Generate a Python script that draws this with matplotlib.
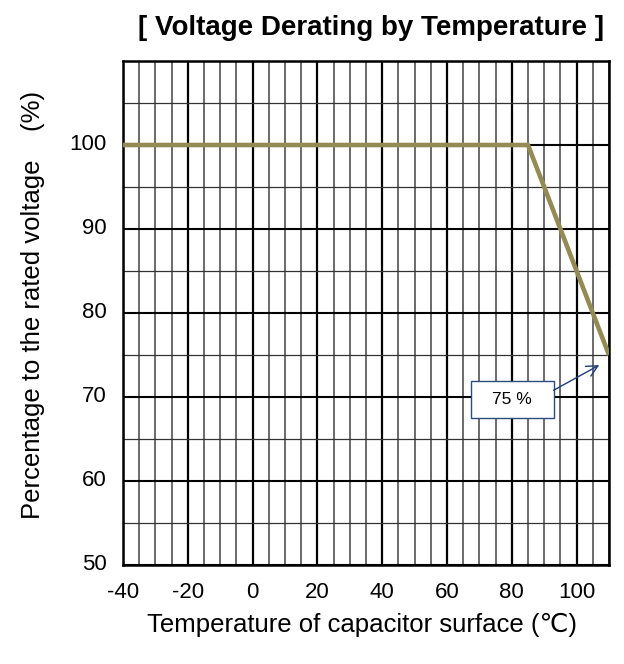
import matplotlib
matplotlib.use("Agg")
import matplotlib.pyplot as plt
import matplotlib.transforms as mtransforms
from matplotlib.patches import Rectangle, FancyArrowPatch
import numpy as np

plt.rcParams['font.family'] = ['Liberation Sans', 'DejaVu Sans']
plt.rcParams['axes.unicode_minus'] = False

# Data
temp_c = [-40, 85, 110]
voltage_pct = [100, 100, 75]
x_ticks = [-40, -20, 0, 20, 40, 60, 80, 100]
y_ticks = [50, 60, 70, 80, 90, 100]
annot_text = "75 %"
annot_point = (107, 73.8)
annot_box = (67.4, 67.5, 25.5, 4.4)  # x, y, width, height in data units

W, H = 624, 664
fig = plt.figure(figsize=(W / 100, H / 100), dpi=100)
ax = fig.add_axes([123 / W, 1 - 565 / H, (609 - 123) / W, (565 - 61) / H])
ax.set_xlim(-40, 110)
ax.set_ylim(50, 110)

# grid lines
for xv in np.arange(-40, 111, 5):
    if xv % 20 == 0:
        ax.axvline(xv, color='black', lw=1.6, zorder=1)
    else:
        ax.axvline(xv, color='#6a6a6a', lw=1.4, zorder=1)
for yv in np.arange(50, 111, 5):
    if yv % 10 == 0:
        ax.axhline(yv, color='black', lw=1.5, zorder=1)
    else:
        ax.axhline(yv, color='#333333', lw=0.9, zorder=1)

ax.plot(temp_c, voltage_pct, color='#948A54', lw=3.3, solid_capstyle='butt', zorder=3)

for s in ax.spines.values():
    s.set_linewidth(1.8)
    s.set_color('black')

ax.set_xticks(x_ticks)
ax.set_yticks(y_ticks)
ax.tick_params(length=0, labelsize=16, pad=12)
offset = mtransforms.ScaledTranslation(0, 2 / 72, fig.dpi_scale_trans)
for lbl in ax.get_yticklabels():
    lbl.set_transform(lbl.get_transform() + offset)

# annotation box and arrow
bx, by, bw, bh = annot_box
ax.add_patch(Rectangle((bx, by), bw, bh, fc='white', ec='#2F4B7C', lw=1.0, zorder=5))
ax.text(bx + bw / 2, by + bh / 2, annot_text, ha='center', va='center',
        fontsize=12.5, zorder=6)
ax.add_patch(FancyArrowPatch((bx + bw, by + bh * 0.75), annot_point,
                             arrowstyle='->', color='#1F3D7A', lw=1.0,
                             mutation_scale=20, shrinkA=0, shrinkB=0, zorder=6))

fig.text(371 / W, 1 - 28 / H, "[ Voltage Derating by Temperature ]",
         ha='center', va='center', fontsize=20, fontweight='bold')
fig.text(362 / W, 1 - 625 / H, "Temperature of capacitor surface (\u2103)",
         ha='center', va='center', fontsize=18.5)
fig.text(33 / W, 1 - 305 / H, "Percentage to the rated voltage    (%)",
         ha='center', va='center', fontsize=18.5, rotation=90)

fig.savefig("out.png", dpi=100)
